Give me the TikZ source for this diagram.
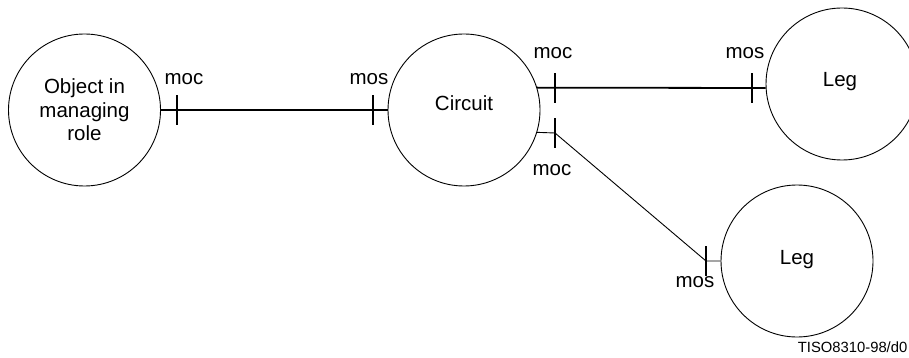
\documentclass[tikz,border=0pt]{standalone}
\usepackage{fontspec}
\setmainfont{Liberation Sans}
\begin{document}
\begin{tikzpicture}[x=1pt,y=-1pt,
  circ/.style={draw,circle,line width=0.9pt,minimum size=152pt,inner sep=0pt,align=center,
    font=\fontsize{20.5}{23.5}\selectfont},
  lbl/.style={font=\fontsize{20.5}{23.5}\selectfont,inner sep=0pt},
  thick line/.style={line width=1.8pt},
  thin line/.style={line width=0.9pt},
  tickmark/.style={line width=1.8pt}]
\useasboundingbox (0,0) rectangle (909,358);
% circles
\node[circ] (c1) at (84.5,110) {Object in\\managing\\role};
\node[circ] (c2) at (464,110) {};
\node[lbl] (t2) at (464,103) {Circuit};
\node[circ] (c3) at (842,84) {};
\node[lbl] (t3) at (840,82) {Leg};
\node[circ] (c4) at (797,261) {};
\node[lbl] (t4) at (797,260) {Leg};
% tick positions
\coordinate (k1) at (177,110);
\coordinate (k2) at (373,110);
\coordinate (k3) at (555,88);
\coordinate (k4) at (752,88);
\coordinate (k5) at (555,133);
\coordinate (k6) at (706,261);
% connectors
\draw[thick line] (c1) -- (c2);
\draw[thick line] (c2.17) -- (c3.183);
\draw[thin line] (c2.-17.6) -- (k5) -- (k6) -- (c4.west);
% ticks
\foreach \k in {k1,k2,k3,k4,k5,k6}
  \draw[tickmark] ([yshift=-15pt]\k) -- ([yshift=15pt]\k);
% labels
\node[lbl] (l1) at (184,79) {moc};
\node[lbl] (l2) at (369,79) {mos};
\node[lbl] (l3) at (553,53) {moc};
\node[lbl] (l4) at (745,53) {mos};
\node[lbl] (l5) at (552,170) {moc};
\node[lbl] (l6) at (695,282) {mos};
\node[font=\fontsize{14.8}{18}\selectfont,inner sep=0pt,anchor=east] (id) at (907.5,347) {TISO8310-98/d0};
\end{tikzpicture}
\end{document}
